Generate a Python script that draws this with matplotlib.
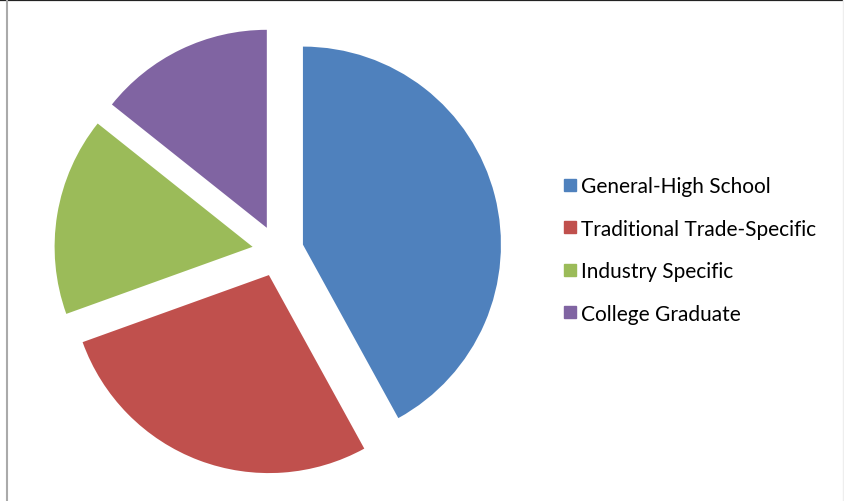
import matplotlib.pyplot as plt
from matplotlib.lines import Line2D

# Share of each background group
labels = ['General-High School', 'Traditional Trade-Specific',
          'Industry Specific', 'College Graduate']
shares = [42, 27.5, 16.2, 14.3]
colors = ['#4F81BD', '#C0504D', '#9BBB59', '#8064A2']

W, H = 844, 502
fig = plt.figure(figsize=(W / 100, H / 100), dpi=100)
fig.patch.set_facecolor('white')

# square axes, 1 data unit = 198 px, pie centred at (278, 250) px
cx, cy, half = 278, 250, 297
ax = fig.add_axes([(cx - half) / W, (cy - half) / H, 2 * half / W, 2 * half / H])

wedges, _ = ax.pie(shares, colors=colors, startangle=90, counterclock=False,
                   explode=[0.13] * 4, radius=1.0,
                   wedgeprops=dict(linewidth=0))
ax.set_xlim(-1.5, 1.5)
ax.set_ylim(-1.5, 1.5)
ax.axis('off')

handles = [Line2D([0], [0], marker='s', linestyle='none', markersize=9,
                  markerfacecolor=c, markeredgecolor=c) for c in colors]
fig.legend(handles, labels, loc='center left',
           bbox_to_anchor=(553 / W, 1 - 251 / H), frameon=False,
           prop={'family': 'Lato', 'size': 15}, labelspacing=1.08,
           handlelength=0.6, handletextpad=0.25, borderpad=0)

# frame edges
fig.add_artist(Line2D([0, 1], [1 - 0.8 / H] * 2, transform=fig.transFigure,
                      color='#222222', linewidth=1.6))
fig.add_artist(Line2D([6.5 / W] * 2, [0, 1], transform=fig.transFigure,
                      color='#aaaaaa', linewidth=1.5))
fig.add_artist(Line2D([843 / W] * 2, [0, 1], transform=fig.transFigure,
                      color='#eeeeee', linewidth=1))

fig.savefig('out.png', dpi=100)
